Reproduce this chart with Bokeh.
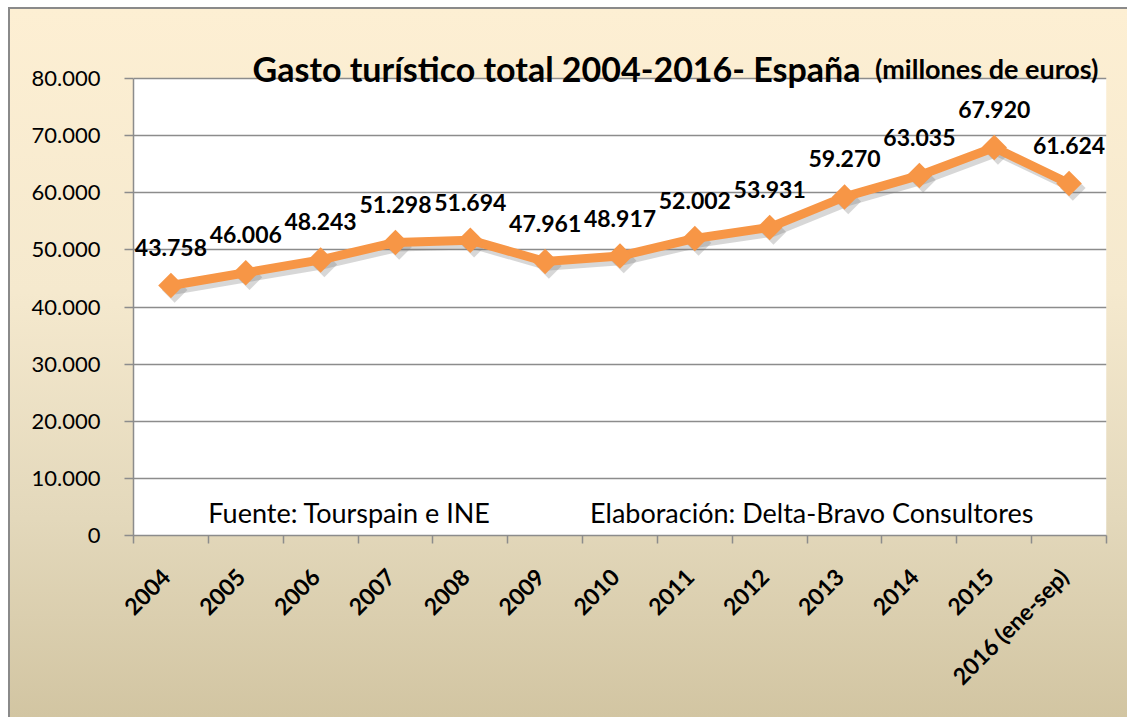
import numpy as np
from bokeh.plotting import figure
from bokeh.models import ColumnDataSource, FixedTicker, Label, Range1d
from bokeh.core.properties import value
from bokeh.transform import dodge
from bokeh.embed import file_html
from bokeh.resources import INLINE

years = ["2004", "2005", "2006", "2007", "2008", "2009", "2010", "2011", "2012",
         "2013", "2014", "2015", "2016 (ene-sep)"]
gasto = [43758, 46006, 48243, 51298, 51694, 47961, 48917, 52002, 53931,
         59270, 63035, 67920, 61624]
value_labels = ["43.758", "46.006", "48.243", "51.298", "51.694", "47.961", "48.917",
                "52.002", "53.931", "59.270", "63.035", "67.920", "61.624"]
y_ticks = [0, 10000, 20000, 30000, 40000, 50000, 60000, 70000, 80000]
y_tick_labels = ["0", "10.000", "20.000", "30.000", "40.000", "50.000", "60.000", "70.000", "80.000"]
y_max = 80000

FONT = "Lato"
ORANGE = "#F79646"
GRID = "#8C8C8C"

xpos = list(np.arange(len(years)) + 0.5)
# rotated labels are nudged slightly left of the category centre
label_pos = [x - 0.07 for x in xpos]
src = ColumnDataSource(dict(x=xpos, y=gasto, lab=value_labels))

# frame spans 515 px; 0..80000 occupies the lower 457 px
y_end = y_max * 515 / 457
p = figure(width=1119, height=710, output_backend="svg", toolbar_location=None,
           x_range=Range1d(0, len(years)), y_range=Range1d(0, y_end),
           min_border_left=123, min_border_top=11, min_border_right=23, min_border_bottom=184)
p.styles = {"margin-left": "8px", "margin-top": "7px",
            "border-left": "2px solid #8a8a8a", "border-top": "2px solid #8a8a8a",
            "background": "linear-gradient(to bottom, #FDEFD3 0%, #F5E9CE 40%, #E3D8BB 72%, #D2C5A2 100%)"}
p.border_fill_alpha = 0
p.background_fill_alpha = 0
p.outline_line_color = None

# white plot area
p.quad(left=[0], right=[len(years)], bottom=[0], top=[y_max], fill_color="white",
       line_color=None, level="image")

# axes
p.yaxis.ticker = FixedTicker(ticks=y_ticks)
p.yaxis.bounds = (0, y_max)
p.yaxis.major_label_overrides = {t: l for t, l in zip(y_ticks, y_tick_labels)}
p.yaxis.major_label_text_font = FONT
p.yaxis.major_label_text_font_size = "22px"
p.yaxis.major_label_text_color = "black"
p.yaxis.axis_line_color = GRID
p.yaxis.axis_line_width = 1.5
p.yaxis.major_tick_line_color = GRID
p.yaxis.major_tick_line_width = 1.5
p.yaxis.major_tick_in = 0
p.yaxis.major_tick_out = 9
p.yaxis.minor_tick_line_color = None
p.yaxis.major_label_standoff = 24

p.xaxis.ticker = FixedTicker(ticks=label_pos, minor_ticks=list(range(len(years) + 1)))
p.xaxis.major_label_overrides = {x: y for x, y in zip(label_pos, years)}
p.xaxis.major_label_orientation = np.pi / 4
p.xaxis.major_label_text_font = FONT
p.xaxis.major_label_text_font_style = "bold"
p.xaxis.major_label_text_font_size = "23px"
p.xaxis.major_label_text_color = "black"
p.xaxis.major_tick_line_color = None
p.xaxis.minor_tick_line_color = GRID
p.xaxis.minor_tick_line_width = 1.5
p.xaxis.minor_tick_in = 0
p.xaxis.minor_tick_out = 8
p.xaxis.axis_line_color = GRID
p.xaxis.axis_line_width = 1.5
p.xaxis.major_label_standoff = 29

p.xgrid.grid_line_color = None
p.ygrid.grid_line_color = GRID
p.ygrid.grid_line_width = 1.5

# shadow
p.line(dodge("x", 0.05, range=p.x_range), dodge("y", -800), source=src,
       line_color="#7a7a7a", line_alpha=0.3, line_width=9)
p.scatter(dodge("x", 0.05, range=p.x_range), dodge("y", -800), source=src, marker="square",
          angle=np.pi / 4, size=18, fill_color="#7a7a7a", fill_alpha=0.3, line_color=None)
# series
p.line("x", "y", source=src, line_color=ORANGE, line_width=9, line_join="round")
p.scatter("x", "y", source=src, marker="square", angle=np.pi / 4, size=18,
          fill_color=ORANGE, line_color=None)

p.text("x", "y", text="lab", source=src, text_font=value(FONT), text_font_style="bold",
       text_font_size="23px", text_color="black", text_align="center",
       text_baseline="middle", y_offset=-38)

# footnotes
p.add_layout(Label(x=1.0, y=4000, text="Fuente: Tourspain e INE", text_font=FONT,
                   text_font_size="27px", text_color="black", text_baseline="middle"))
p.add_layout(Label(x=6.1, y=4000, text="Elaboración:  Delta-Bravo Consultores", text_font=FONT,
                   text_font_size="27px", text_color="black", text_baseline="middle"))

# title
p.add_layout(Label(x=len(years), y=y_max, x_offset=-8, y_offset=10,
                   text="(millones de euros)", text_font=FONT, text_font_style="bold",
                   text_font_size="27px", text_color="black", text_align="right",
                   text_baseline="alphabetic"))
p.add_layout(Label(x=len(years), y=y_max, x_offset=-246, y_offset=10,
                   text="Gasto turístico total 2004-2016- España", text_font=FONT,
                   text_font_style="bold", text_font_size="34px", text_color="black",
                   text_align="right", text_baseline="alphabetic"))

open("out.html", "w").write(file_html(p, INLINE))
